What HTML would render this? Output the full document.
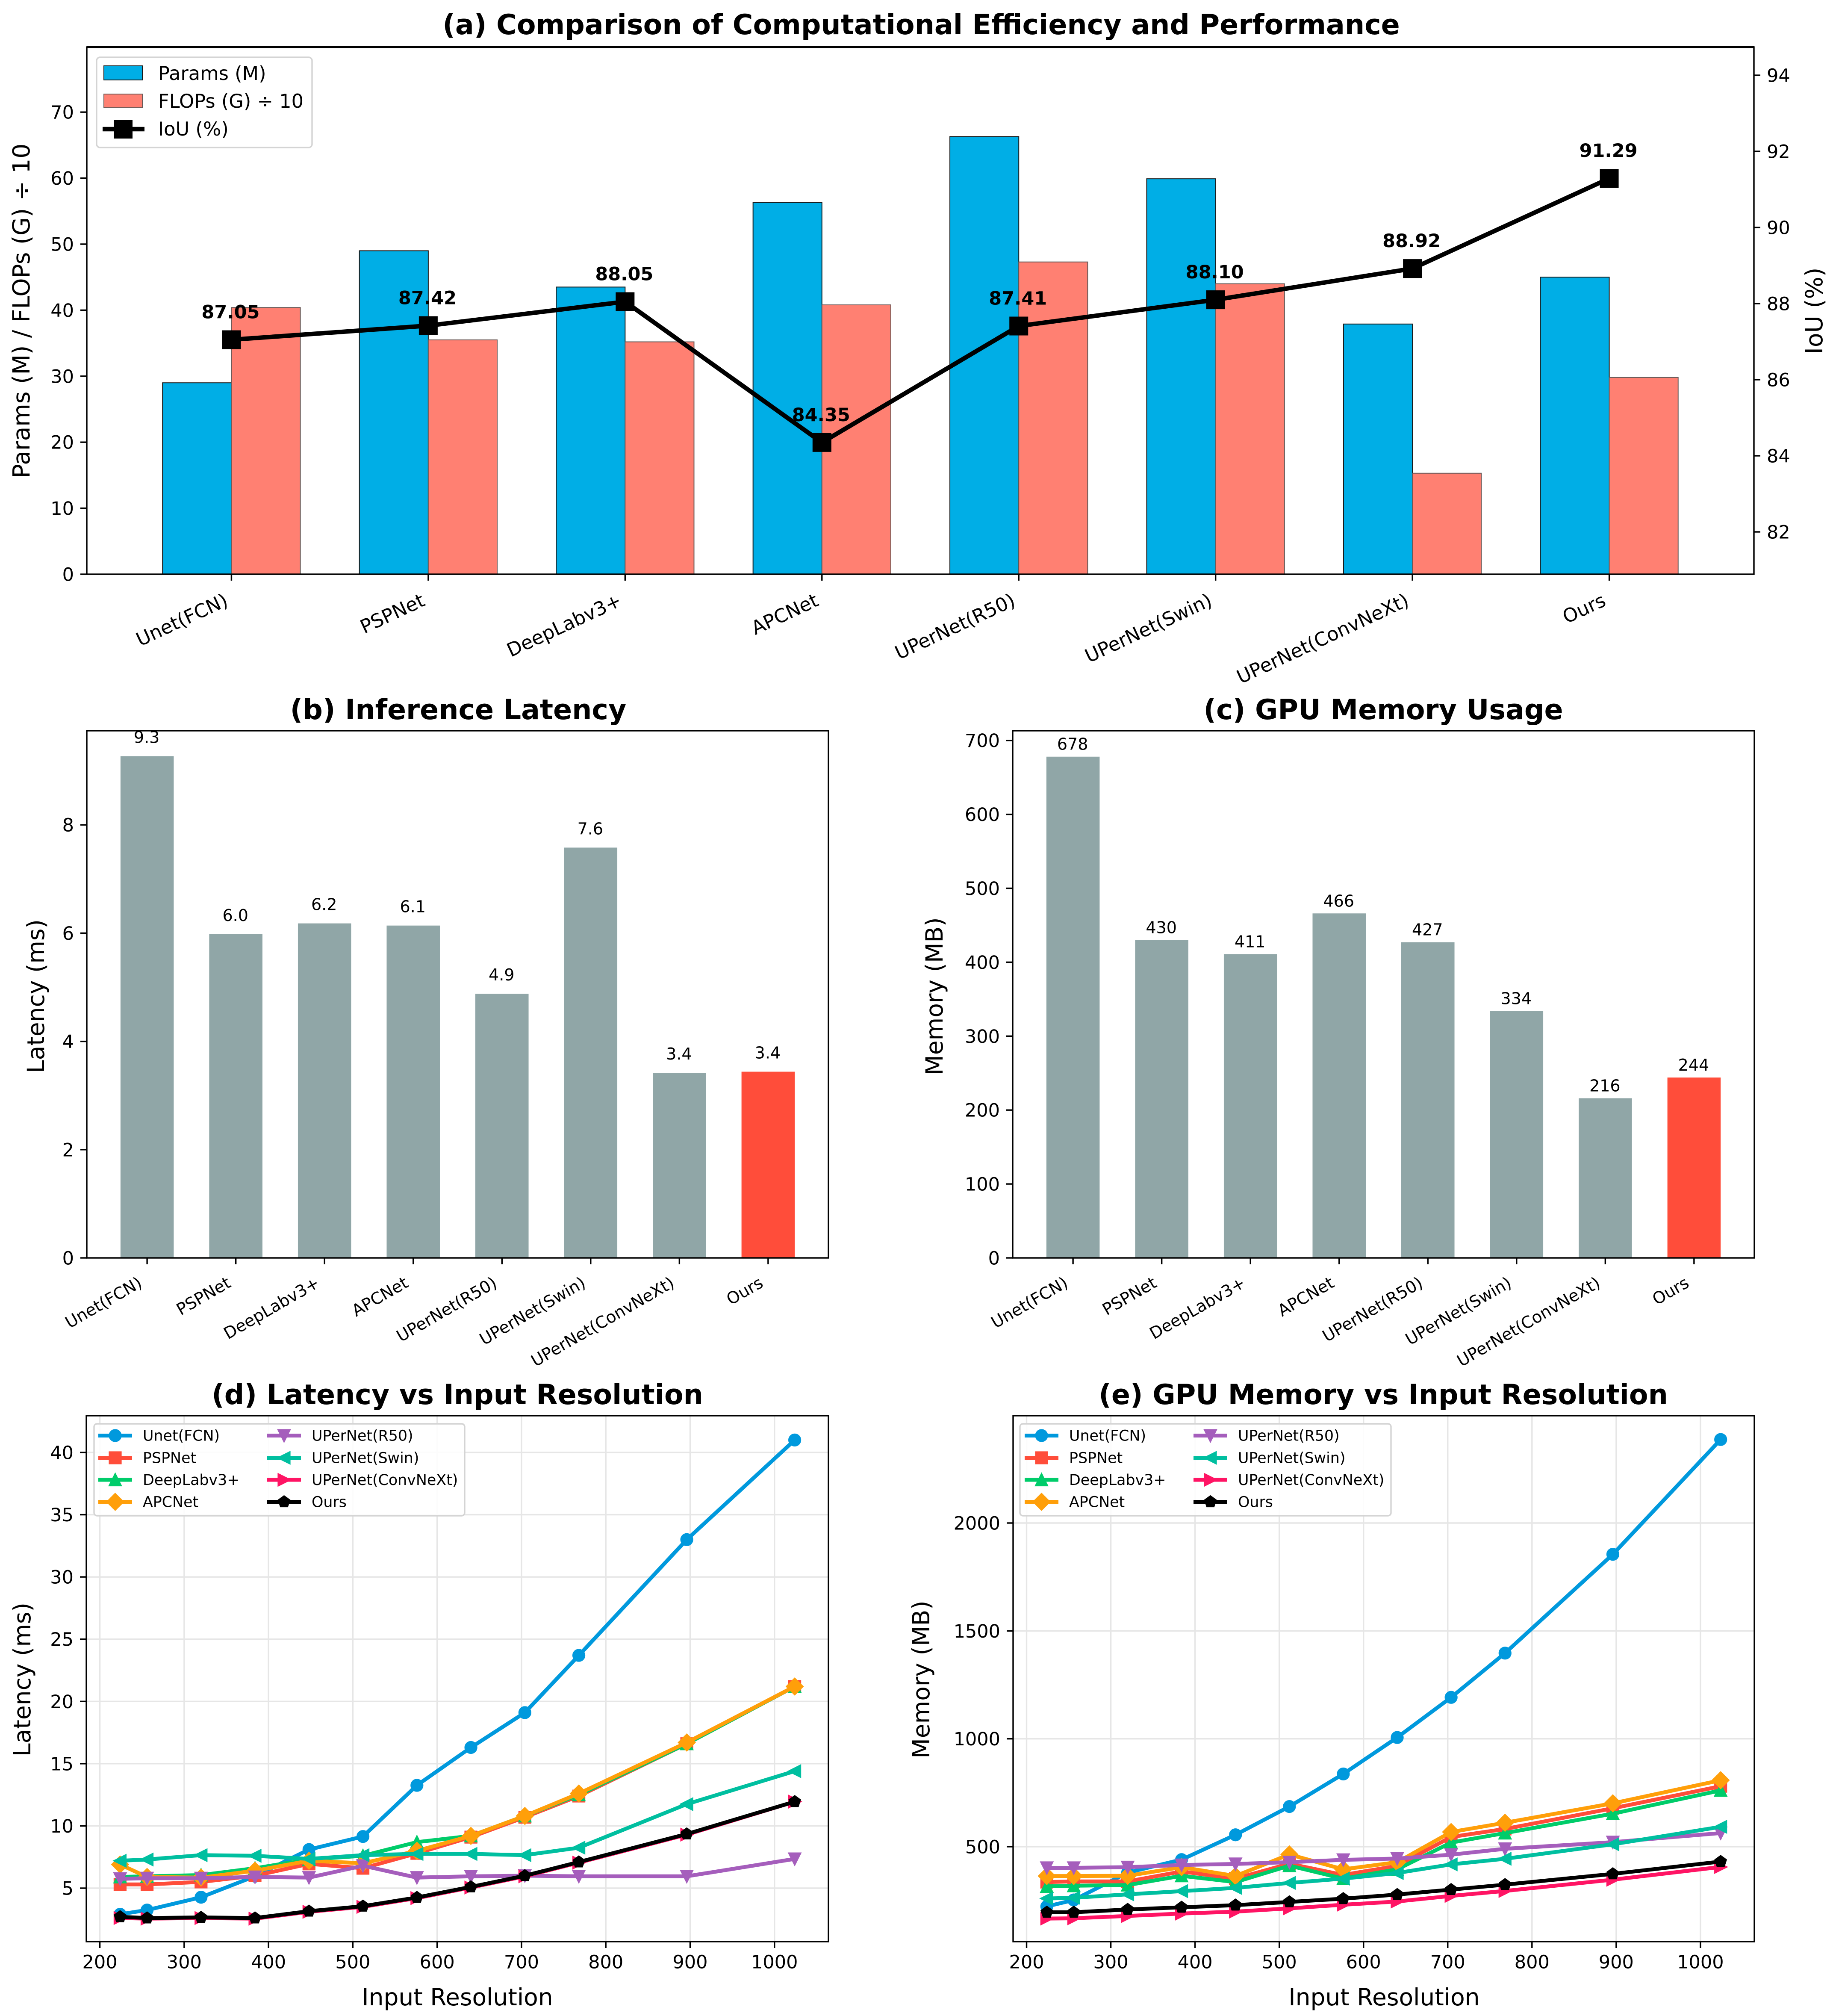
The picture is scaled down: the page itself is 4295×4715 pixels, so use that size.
<!DOCTYPE html>
<html lang="en">
<head>
<meta charset="utf-8">
<title>Model efficiency comparison</title>
<style>
html,body{margin:0;padding:0;background:#fff;}
svg{display:block;}
text{font-family:"DejaVu Sans","Liberation Sans",sans-serif;fill:#000;}
.title{font-size:65px;font-weight:bold;text-anchor:middle;}
.axis-label{font-size:55px;text-anchor:middle;}
</style>
</head>
<body>
<svg id="figure" xmlns="http://www.w3.org/2000/svg" width="4295" height="4715" viewBox="0 0 4295 4715">
  <rect x="0" y="0" width="4295" height="4715" fill="#fff"/>
  <g id="panel-a"></g>
  <g id="panel-b"></g>
  <g id="panel-c"></g>
  <g id="panel-d"></g>
  <g id="panel-e"></g>

  <text class="title" x="2155" y="80">(a) Comparison of Computational Efficiency and Performance</text>
  <text class="title" x="1072" y="1682">(b) Inference Latency</text>
  <text class="title" x="3236" y="1682">(c) GPU Memory Usage</text>
  <text class="title" x="1070" y="3284">(d) Latency vs Input Resolution</text>
  <text class="title" x="3236" y="3284">(e) GPU Memory vs Input Resolution</text>

  <text class="axis-label" transform="translate(69 727) rotate(-90)">Params (M) / FLOPs (G) ÷ 10</text>
  <text class="axis-label" transform="translate(4263 727) rotate(-90)">IoU (%)</text>
  <text class="axis-label" transform="translate(103 2330) rotate(-90)">Latency (ms)</text>
  <text class="axis-label" transform="translate(2205 2330) rotate(-90)">Memory (MB)</text>
  <text class="axis-label" transform="translate(71 3928) rotate(-90)">Latency (ms)</text>
  <text class="axis-label" transform="translate(2174 3928) rotate(-90)">Memory (MB)</text>
  <text class="axis-label" x="1070" y="4690">Input Resolution</text>
  <text class="axis-label" x="3238" y="4690">Input Resolution</text>
</svg>
<script>
// ---- shared categories ----
const categories = ["Unet(FCN)","PSPNet","DeepLabv3+","APCNet","UPerNet(R50)","UPerNet(Swin)","UPerNet(ConvNeXt)","Ours"];

// ---- panel (a) ----
const paramsM  = [29.0,49.0,43.5,56.3,66.3,59.9,37.9,45.0];
const flopsG10 = [40.4,35.5,35.2,40.8,47.3,44.0,15.3,29.8];
const iouPct   = [87.05,87.42,88.05,84.35,87.41,88.10,88.92,91.29];
const paramTicks = [0,10,20,30,40,50,60,70];
const iouTicks   = [82,84,86,88,90,92,94];

// ---- panels (b) and (c) ----
const latencyMs = [9.27,5.98,6.18,6.14,4.88,7.58,3.42,3.44];
const memoryMb  = [678,430,411,466,427,334,216,244];
const latencyBarTicks = [0,2,4,6,8];
const memoryBarTicks  = [0,100,200,300,400,500,600,700];

// ---- panels (d) and (e) ----
const resolutions = [224,256,320,384,448,512,576,640,704,768,896,1024];
const resTicks = [200,300,400,500,600,700,800,900,1000];
const latLineTicks = [5,10,15,20,25,30,35,40];
const memLineTicks = [500,1000,1500,2000];

const latUnet     = [2.9,3.24,4.27,5.96,8.1,9.15,13.26,16.3,19.1,23.7,33.0,41.0];
const latPsp      = [5.3,5.3,5.5,6.0,6.95,6.6,7.8,9.1,10.7,12.4,16.6,21.2];
const latDeeplab  = [5.9,5.95,6.05,6.6,7.3,7.6,8.7,9.2,10.8,12.5,16.6,21.2];
const latApc      = [6.9,5.9,5.85,6.4,7.2,7.0,8.0,9.2,10.8,12.6,16.7,21.2];
const latR50      = [5.75,5.8,5.8,5.9,5.85,6.8,5.85,5.95,6.0,5.95,5.95,7.35];
const latSwin     = [7.2,7.3,7.65,7.6,7.35,7.65,7.75,7.75,7.65,8.25,11.75,14.4];
const latConvNeXt = [2.6,2.55,2.6,2.55,3.1,3.5,4.2,5.05,5.95,7.05,9.3,11.95];
const latOurs     = [2.7,2.6,2.65,2.6,3.15,3.55,4.25,5.1,6.0,7.1,9.35,11.95];

const memUnet     = [223,253,380,440,555,686,837,1006,1192,1397,1855,2387];
const memPsp      = [336,339,339,385,352,421,369,411,545,582,678,780];
const memDeeplab  = [316,319,322,365,336,412,352,395,519,563,653,761];
const memApc      = [364,364,365,405,364,464,395,428,568,611,701,808];
const memR50      = [402,402,405,415,420,428,439,445,463,490,521,563];
const memSwin     = [260,263,279,294,309,332,352,378,418,444,511,592];
const memConvNeXt = [167,168,179,190,199,214,231,246,272,295,347,406];
const memOurs     = [196,196,209,219,229,244,259,278,301,324,374,431];

const seriesNames   = categories;
const seriesColors  = ["#0099DD","#FF4D3A","#00CC6A","#FF9F0A","#A55EBC","#00BFA0","#FF1464","#000000"];
const seriesMarkers = ["o","s","^","D","v","<",">","p"];

const NS = "http://www.w3.org/2000/svg";
function svgEl(parent, tag, attrs, txt){
  const e = document.createElementNS(NS, tag);
  for (const k in attrs) e.setAttribute(k, attrs[k]);
  if (txt !== undefined) e.textContent = txt;
  parent.appendChild(e);
  return e;
}
function linear(d0, d1, r0, r1){ return v => r0 + (v - d0) * (r1 - r0) / (d1 - d0); }

function markerPath(kind, cx, cy, s){
  const r = s / 2;
  const pts = (arr) => "M" + arr.map(p => (cx + p[0]).toFixed(2) + " " + (cy + p[1]).toFixed(2)).join("L") + "Z";
  if (kind === "o") return `M${cx - r} ${cy}A${r} ${r} 0 1 0 ${cx + r} ${cy}A${r} ${r} 0 1 0 ${cx - r} ${cy}Z`;
  if (kind === "s") return pts([[-r,-r],[r,-r],[r,r],[-r,r]]);
  if (kind === "^") return pts([[0,-r],[r,r],[-r,r]]);
  if (kind === "v") return pts([[0,r],[r,-r],[-r,-r]]);
  if (kind === "<") return pts([[-r,0],[r,-r],[r,r]]);
  if (kind === ">") return pts([[r,0],[-r,-r],[-r,r]]);
  if (kind === "D") { const d = r * Math.SQRT2; return pts([[0,-d],[d,0],[0,d],[-d,0]]); }
  const p = [];
  for (let i = 0; i < 5; i++){ const a = -Math.PI/2 + i*2*Math.PI/5; p.push([r*Math.cos(a), r*Math.sin(a)]); }
  return pts(p);
}

const TICK = 15, SPINE = 3.4, PAD = 30, TICKFONT = 43;

function drawYTicks(g, ticks, y, box, side, fontSize){
  ticks.forEach(t => {
    const py = y(t);
    const x0 = side === "left" ? box.l : box.r;
    const dir = side === "left" ? -1 : 1;
    const tk = svgEl(g, "line", {x1:x0, x2:x0 + dir*TICK, y1:py, y2:py, stroke:"#000", "stroke-width":SPINE});
    
    
    const lb = svgEl(g, "text", {x:x0 + dir*PAD, y:py + fontSize*0.36, "font-size":fontSize, "text-anchor": side === "left" ? "end" : "start"}, String(t));
    
    
  });
}
function drawXTicks(g, ticks, x, box, fontSize){
  ticks.forEach(t => {
    const px = x(t);
    const tk = svgEl(g, "line", {x1:px, x2:px, y1:box.b, y2:box.b + TICK, stroke:"#000", "stroke-width":SPINE});
    
    
    const lb = svgEl(g, "text", {x:px, y:box.b + PAD + fontSize*0.76, "font-size":fontSize, "text-anchor":"middle"}, String(t));
    
    
  });
}
function drawCategoryTicks(g, labels, x, box, fontSize, angle, dx, dy){
  labels.forEach((name, i) => {
    const px = x(i);
    const tk = svgEl(g, "line", {x1:px, x2:px, y1:box.b, y2:box.b + TICK, stroke:"#000", "stroke-width":SPINE});
    
    
    const ex = px + dx, ey = box.b + dy;
    const lb = svgEl(g, "text", {transform:`translate(${ex} ${ey}) rotate(${-angle})`, "font-size":fontSize, "text-anchor":"end"}, name);
    
    
  });
}
function drawSpines(g, box, w){
  const r = svgEl(g, "rect", {x:box.l, y:box.t, width:box.r - box.l, height:box.b - box.t, fill:"none", stroke:"#000", "stroke-width":w || SPINE});
  
  
}

/* ---------- panel a ---------- */
(function(){
  const g = document.getElementById("panel-a");
  const box = {l:203, r:4103, t:110, b:1343};
  const x = linear(-0.735, 7.735, box.l, box.r);
  const yL = linear(0, 80, box.b, box.b - 80*15.44);
  const yR = linear(88, 90, 710, 532);
  const barW = 0.35;
  categories.forEach((c, i) => {
    const p = svgEl(g, "rect", {x:x(i - barW), y:yL(paramsM[i]), width:x(i) - x(i - barW), height:yL(0) - yL(paramsM[i]), fill:"#00AEE6", stroke:"#1a1a1a", "stroke-width":2});
    
    
    const f = svgEl(g, "rect", {x:x(i), y:yL(flopsG10[i]), width:x(i + barW) - x(i), height:yL(0) - yL(flopsG10[i]), fill:"#FF8072", stroke:"#6a5a58", "stroke-width":2});
    
    
  });
  const linePts = iouPct.map((v, i) => x(i).toFixed(1) + "," + yR(v).toFixed(1)).join(" ");
  const ln = svgEl(g, "polyline", {points:linePts, fill:"none", stroke:"#000", "stroke-width":10.4, "stroke-linejoin":"round"});
  
  
  iouPct.forEach((v, i) => {
    const s = 44;
    const m = svgEl(g, "rect", {x:x(i) - s/2, y:yR(v) - s/2, width:s, height:s, fill:"#000"});
    
    
    const t = svgEl(g, "text", {x:x(i) - 2, y:yR(v) - 50, "font-size":43, "font-weight":"bold", "text-anchor":"middle"}, v.toFixed(2));
    
    
  });
  drawSpines(g, box);
  const topSpine = svgEl(g, "line", {x1:box.l, x2:box.r, y1:box.t, y2:box.t, stroke:"#000", "stroke-width":4.5});
  
  
  drawYTicks(g, paramTicks, yL, box, "left", TICKFONT);
  drawYTicks(g, iouTicks, yR, box, "right", TICKFONT);
  drawCategoryTicks(g, categories, x, box, 44.5, 25, -5, 72);

  const lg = svgEl(g, "g", {});
  
  
  const fr = svgEl(lg, "rect", {x:226, y:134, width:504, height:211, rx:8, fill:"#fff", "fill-opacity":0.85, stroke:"#d4d4d4", "stroke-width":3.4});
  
  
  const h1 = svgEl(lg, "rect", {x:243, y:154, width:90, height:33, fill:"#00AEE6", stroke:"#1a1a1a", "stroke-width":2});
  
  
  const t1 = svgEl(lg, "text", {x:370, y:187, "font-size":44.7}, "Params (M)");
  
  
  const h2 = svgEl(lg, "rect", {x:243, y:220, width:90, height:32, fill:"#FF8072", stroke:"#6a5a58", "stroke-width":2});
  
  
  const t2 = svgEl(lg, "text", {x:370, y:252, "font-size":44.7}, "FLOPs (G) ÷ 10");
  
  
  const h3 = svgEl(lg, "line", {x1:240, x2:338, y1:302, y2:302, stroke:"#000", "stroke-width":10.4});
  
  
  const h3m = svgEl(lg, "rect", {x:266, y:280, width:44, height:44, fill:"#000"});
  
  
  const t3 = svgEl(lg, "text", {x:370, y:317, "font-size":44.7}, "IoU (%)");
  
  
})();

/* ---------- panels b, c ---------- */
function drawBarPanel(id, box, values, ticks, unit, fmt, gap){
  const g = document.getElementById(id);
  const x = linear(-0.68, 7.68, box.l, box.r);
  const y = linear(0, 1, box.b, box.b - unit);
  values.forEach((v, i) => {
    const b = svgEl(g, "rect", {x:x(i - 0.3), y:y(v), width:x(i + 0.3) - x(i - 0.3), height:y(0) - y(v), fill: i === values.length - 1 ? "#FF4D3A" : "#90A6A7"});
    
    
    const t = svgEl(g, "text", {x:x(i) - 1, y:y(v) - gap, "font-size":38, "text-anchor":"middle"}, fmt(v));
    
    
  });
  drawSpines(g, box);
  drawYTicks(g, ticks, y, box, "left", TICKFONT);
  drawCategoryTicks(g, categories, x, box, 38.5, 30, -9, 66);
}
drawBarPanel("panel-b", {l:203, r:1938, t:1709, b:2942}, latencyMs, latencyBarTicks, 126.6, v => v.toFixed(1), 31);
drawBarPanel("panel-c", {l:2369, r:4104, t:1709, b:2942}, memoryMb, memoryBarTicks, 1.729, v => v.toFixed(0), 16);

/* ---------- panels d, e ---------- */
function drawLinePanel(id, box, seriesData, yTicks, y, lgPos){
  const g = document.getElementById(id);
  const x = linear(184, 1064, box.l, box.r);
  resTicks.forEach(t => {
    const gl = svgEl(g, "line", {x1:x(t), x2:x(t), y1:box.t, y2:box.b, stroke:"#e6e6e6", "stroke-width":3.4});
    
    
  });
  yTicks.forEach(t => {
    const gl = svgEl(g, "line", {x1:box.l, x2:box.r, y1:y(t), y2:y(t), stroke:"#e6e6e6", "stroke-width":3.4});
    
    
  });
  seriesData.forEach((vals, s) => {
    const sg = svgEl(g, "g", {});
    
    
    const pts = vals.map((v, i) => x(resolutions[i]).toFixed(1) + "," + y(v).toFixed(1)).join(" ");
    const ln = svgEl(sg, "polyline", {points:pts, fill:"none", stroke:seriesColors[s], "stroke-width":9, "stroke-linejoin":"round"});
    
    
    vals.forEach((v, i) => {
      const m = svgEl(sg, "path", {d:markerPath(seriesMarkers[s], x(resolutions[i]), y(v), 26), fill:seriesColors[s], stroke:seriesColors[s], "stroke-width":4.2});
      
      
    });
  });
  drawSpines(g, box);
  drawYTicks(g, yTicks, y, box, "left", TICKFONT);
  drawXTicks(g, resTicks, x, box, TICKFONT);

  const lg = svgEl(g, "g", {});
  
  
  const fr = svgEl(lg, "rect", {x:lgPos.l, y:3330, width:lgPos.r - lgPos.l, height:215, rx:7, fill:"#fff", "fill-opacity":0.85, stroke:"#d4d4d4", "stroke-width":3.4});
  
  
  const rowY = [3357.5, 3409.5, 3461, 3512.5];
  seriesNames.forEach((n, s) => {
    const col = s < 4 ? 0 : 1;
    const row = s % 4;
    const hx = lgPos.hx[col];
    const hl = svgEl(lg, "line", {x1:hx, x2:hx + 79, y1:rowY[row], y2:rowY[row], stroke:seriesColors[s], "stroke-width":9});
    
    
    const hm = svgEl(lg, "path", {d:markerPath(seriesMarkers[s], hx + 39.5, rowY[row], 26), fill:seriesColors[s], stroke:seriesColors[s], "stroke-width":4.2});
    
    
    const tx = svgEl(lg, "text", {x:hx + 104, y:rowY[row] + 12, "font-size":34.8}, n);
    
    
  });
}
drawLinePanel("panel-d", {l:202, r:1938, t:3311, b:4541},
  [latUnet,latPsp,latDeeplab,latApc,latR50,latSwin,latConvNeXt,latOurs],
  latLineTicks, linear(5, 40, 4416, 3397), {l:220, r:1087, hx:[230,625]});
drawLinePanel("panel-e", {l:2370, r:4104, t:3311, b:4541},
  [memUnet,memPsp,memDeeplab,memApc,memR50,memSwin,memConvNeXt,memOurs],
  memLineTicks, linear(500, 2000, 4319, 3562), {l:2386, r:3254, hx:[2397,2792]});
</script>
</body>
</html>
